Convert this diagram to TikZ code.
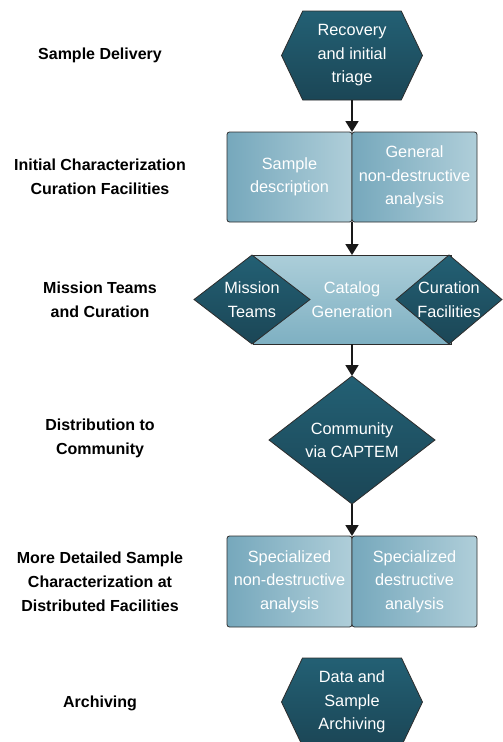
\documentclass[tikz,border=0pt]{standalone}
\usepackage{fontspec}
\setmainfont{Liberation Sans}
\usetikzlibrary{shapes.geometric,shapes.symbols,arrows.meta}
\definecolor{darkT}{RGB}{35,96,116}
\definecolor{darkB}{RGB}{27,70,86}
\definecolor{boxL}{RGB}{118,168,188}
\definecolor{boxR}{RGB}{175,206,217}
\definecolor{bandT}{RGB}{172,206,217}
\definecolor{bandB}{RGB}{126,176,194}
\definecolor{edge}{RGB}{45,45,45}
\begin{document}
\begin{tikzpicture}[x=1pt,y=-1pt,
  every node/.style={font=\fontsize{16.3}{23.5}\selectfont, align=center, inner sep=0pt, outer sep=0pt},
  lbl/.style={font=\fontsize{16}{24}\selectfont\bfseries, text=black},
  hexa/.style={shape=signal, signal to=west and east, signal pointer angle=129, draw=edge, line width=0.8pt,
    top color=darkT, bottom color=darkB, text=white, minimum width=141pt, minimum height=89pt},
  halfbox/.style={rectangle, rounded corners=2.5pt, draw=edge, line width=0.8pt,
    left color=boxL, right color=boxR, text=white, minimum width=125pt, minimum height=90pt},
  band/.style={rectangle, draw=edge, line width=0.8pt, top color=bandT, bottom color=bandB,
    text=white, minimum width=198pt, minimum height=89pt},
  dia/.style={diamond, draw=edge, line width=0.8pt, top color=darkT, bottom color=darkB, text=white,
    inner sep=-5pt, aspect=1.2},
  arr/.style={line width=1.8pt, draw=black!90, -{Triangle[width=13pt,length=11pt]}}
]
\useasboundingbox (0,0) rectangle (503,742);

% shapes
\node[hexa] (rec) at (352,55.5) {Recovery\\and initial\\triage};

\node[halfbox] (sd) at (289.5,177) {Sample\\description};
\node[halfbox] (gnd) at (414.5,177) {General\\non-destructive\\analysis};

\node[band] (cat) at (352,299.5) {Catalog\\Generation};
\node[dia, minimum width=116pt, minimum height=89pt] (mt) at (252,299.5) {Mission\\Teams};
\node[dia, minimum width=106pt, minimum height=89pt] (cf) at (449,299.5) {Curation\\Facilities};

\node[diamond, draw=edge, line width=0.8pt, top color=darkT, bottom color=darkB, text=white,
  aspect=1.3, minimum width=166pt, minimum height=128pt] (com) at (352,440) {Community\\via CAPTEM};

\node[halfbox, minimum height=91pt] (snd) at (289.5,581.5) {Specialized\\non-destructive\\analysis};
\node[halfbox, minimum height=91pt] (sdd) at (414.5,581.5) {Specialized\\destructive\\analysis};

\node[hexa, minimum height=88pt] (arc) at (352,702) {Data and\\Sample\\Archiving};

% left labels
\node[lbl] (l1) at (100,55) {Sample Delivery};
\node[lbl] (l2) at (100,176.5) {Initial Characterization\\Curation Facilities};
\node[lbl] (l3) at (100,300) {Mission Teams\\and Curation};
\node[lbl] (l4) at (100,438.5) {Distribution to\\Community};
\node[lbl] (l5) at (100,582) {More Detailed Sample\\Characterization at\\Distributed Facilities};
\node[lbl] (l6) at (100,703) {Archiving};

% connectors
\draw[arr] (rec.south) -- (sd.north east);
\draw[arr] (sd.south east) -- (cat.north);
\draw[arr] (cat.south) -- (com.north);
\draw[arr] (com.south) -- (snd.north east);
\end{tikzpicture}
\end{document}
